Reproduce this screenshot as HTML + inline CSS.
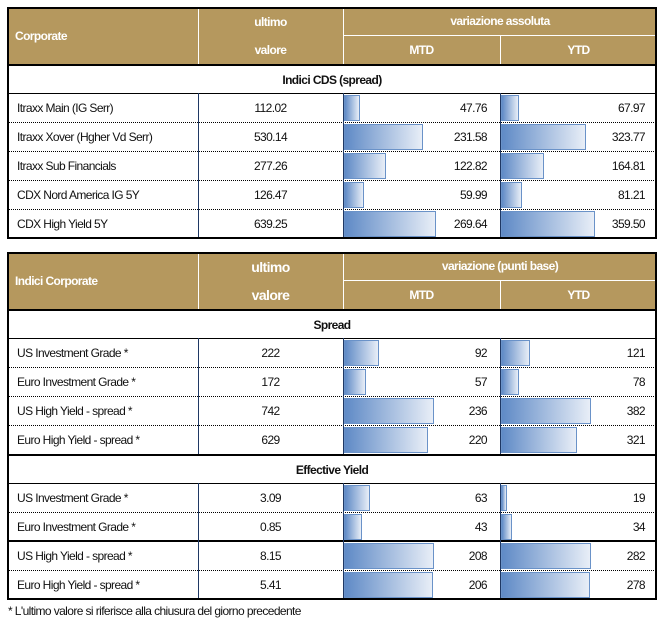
<!DOCTYPE html>
<html><head><meta charset="utf-8"><style>
body{margin:0;width:663px;height:626px;background:#fff;position:relative;overflow:hidden;font-family:"Liberation Sans",sans-serif;font-size:12px;letter-spacing:-0.6px;color:#111}
div{position:absolute;box-sizing:border-box}
.h{background:#b5985e;color:#fff;font-weight:bold;display:flex;align-items:center}
.c{justify-content:center}
.bar{background:linear-gradient(to right,#5f8ac6,#e8eef7);border:1px solid #6a92c8}
.dot{background:repeating-linear-gradient(to right,#000 0 1px,transparent 1px 2px);z-index:2}
</style></head><body>
<div id="root"></div>
<script>
var H='';
function d(x,y,w,h,st,cls,txt){H+='<div class="'+(cls||'')+'" style="left:'+x+'px;top:'+y+'px;width:'+w+'px;height:'+h+'px;'+(st||'')+'">'+(txt||'')+'</div>';}
var X0=7,X1=198,X2=343,X3=500,X4=657;
function table(top,rowsY,hdr,sections){
  var hTop=top,hMid=top+29,hBot=top+57;
  d(X0,hTop,X4-X0,hBot-hTop,'','h','');
  d(X0+8,hTop,X1-X0,hBot-hTop,'','h',hdr[0]);
  d(X1,hTop,X2-X1,29,'','h c',hdr[1]);
  d(X1,hMid,X2-X1,28,'','h c',hdr[2]);
  d(X2,hTop,X4-X2,29,'border-bottom:1px solid #fff','h c',hdr[3]);
  d(X2,hMid,X3-X2,28,'','h c','MTD');
  d(X3,hMid,X4-X3,28,'','h c','YTD');
  d(X1,hTop,1,hBot-hTop,'background:#fff');
  d(X2,hTop,1,hBot-hTop,'background:#fff');
  d(X3,hMid,1,28,'background:#fff');
  var y=hBot;
  sections.forEach(function(s){
    d(X0,y,X4-X0,29,'border-top:2px solid #000;display:flex;align-items:center;justify-content:center;font-weight:bold','',s.t);
    y+=29;
    d(X0,y,X4-X0,1,'background:#000');
    s.rows.forEach(function(r,i){
      var h=r[5]||29;
      if(i>0){ if(r[6]) d(X0,y-1,X4-X0,2,'background:#000;z-index:2'); else d(X0,y,X4-X0,1,'','dot'); }
      d(X0+10,y,X1-X0,h,'display:flex;align-items:center','',r[0]);
      d(X1,y,X2-X1,h,'display:flex;align-items:center;justify-content:center','',r[1]);
      d(X2+1,y+2,r[3],h-3,'','bar');
      d(X2,y,X3-X2-13,h,'display:flex;align-items:center;justify-content:flex-end','',r[2]);
      d(X3+1,y+2,r[4][1],h-3,'','bar');
      d(X3,y,X4-X3-12,h,'display:flex;align-items:center;justify-content:flex-end','',r[4][0]);
      d(X1,y,1,h,'background:#1f3864;z-index:3');
      d(X2,y,1,h,'background:#1f3864;z-index:3');
      d(X3,y,1,h,'background:#1f3864;z-index:3');
      y+=h;
    });
  });
  d(X0,top,X4-X0,y-top+1,'border:2px solid #000;z-index:4');
  return y;
}
var a=0.341,b=0.261;
var t1=[["Itraxx Main (IG Serr)","112.02","47.76",47.76*a,["67.97",67.97*b]],
["Itraxx Xover (Hgher Vd Serr)","530.14","231.58",231.58*a,["323.77",323.77*b]],
["Itraxx Sub Financials","277.26","122.82",122.82*a,["164.81",164.81*b]],
["CDX Nord America IG 5Y","126.47","59.99",59.99*a,["81.21",81.21*b]],
["CDX High Yield 5Y","639.25","269.64",269.64*a,["359.50",359.50*b]]];
table(7,0,["Corporate","ultimo","valore","variazione assoluta"],[{t:"Indici CDS (spread)",rows:t1}]);
var m=0.38,n=0.236,m2=0.433,n2=0.319;
var s1=[["US Investment Grade *","222","92",92*m,["121",121*n]],
["Euro Investment Grade *","172","57",57*m,["78",78*n]],
["US High Yield - spread *","742","236",236*m,["382",382*n]],
["Euro High Yield - spread *","629","220",220*m,["321",321*n]]];
var s2=[["US Investment Grade *","3.09","63",63*m2*0.95,["19",19*n2]],
["Euro Investment Grade *","0.85","43",43*m2*0.95,["34",34*n2]],
["US High Yield - spread *","8.15","208",208*m2,["282",282*n2],29,true],
["Euro High Yield - spread *","5.41","206",206*m2,["278",278*n2]]];
table(252,0,["Indici Corporate","<span style='font-size:14px'>ultimo</span>","<span style='font-size:14px'>valore</span>","variazione (punti base)"],[{t:"Spread",rows:s1},{t:"Effective Yield",rows:s2}]);
d(8,604,640,16,'font-size:12px','', "* L'ultimo valore si riferisce alla chiusura del giorno precedente");
document.getElementById('root').outerHTML=H;
</script>
</body></html>
